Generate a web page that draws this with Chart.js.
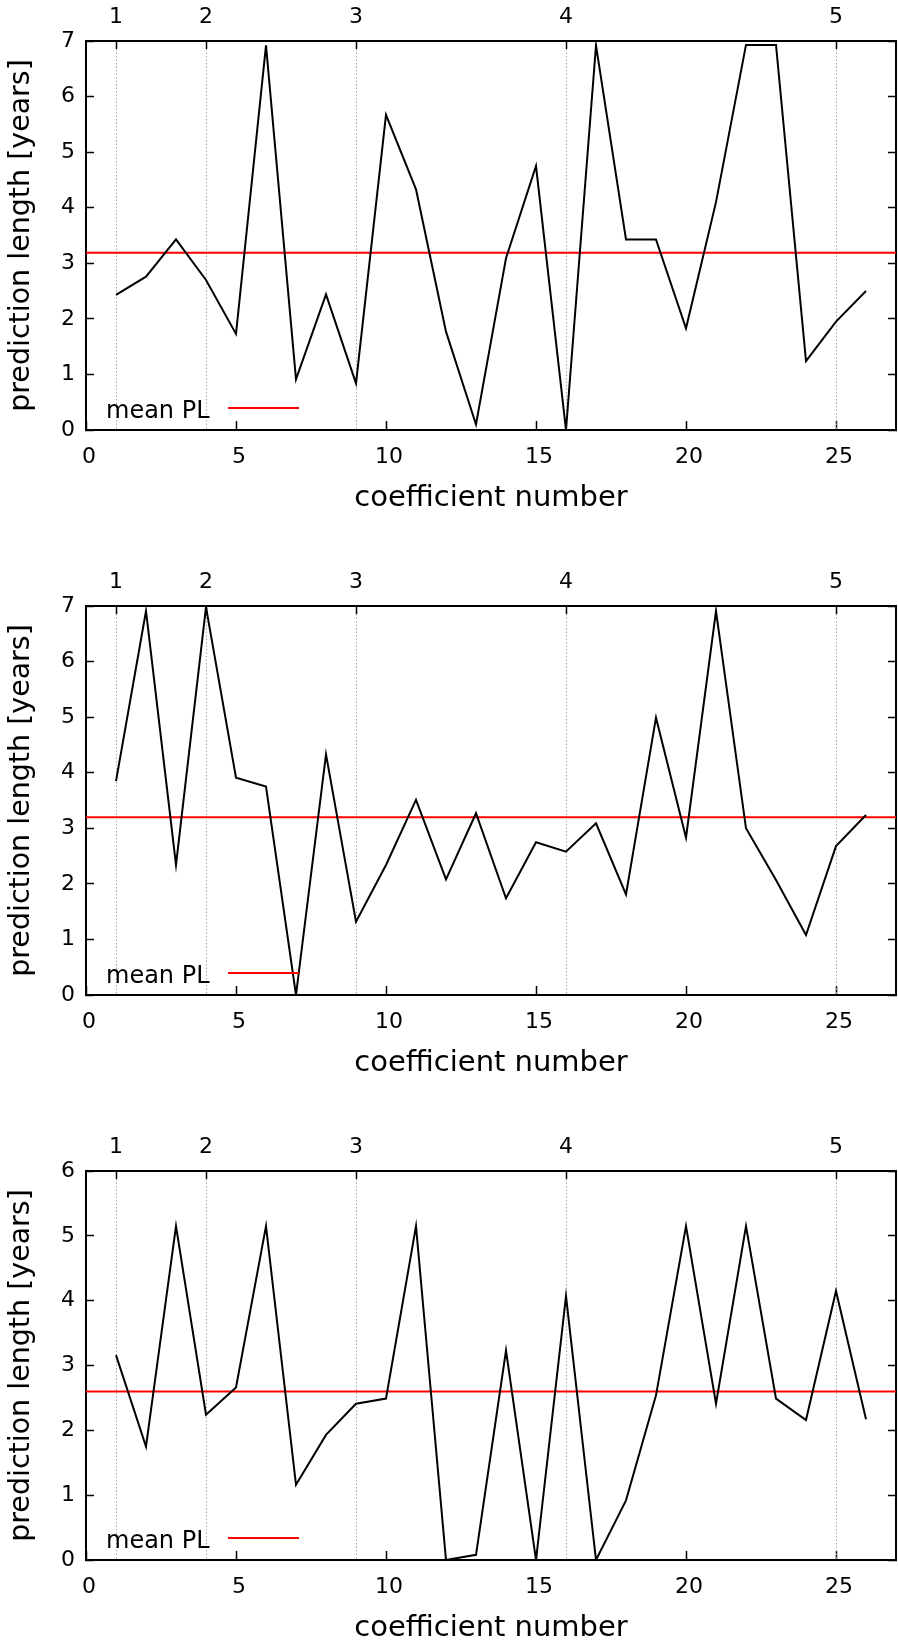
<!DOCTYPE html>
<html>
<head>
<meta charset="utf-8">
<title>prediction length</title>
<script src="https://cdn.jsdelivr.net/npm/chart.js@4.4.1/dist/chart.umd.min.js"></script>
<style>
	body { margin: 0; background: #fff; width: 898px; height: 1645px; overflow: hidden; position: relative; }
	canvas { position: absolute; left: 0; }
</style>
</head>
<body>
<canvas id="Plot1Canvas" width="898" height="565" style="top:-15px"></canvas>
<canvas id="Plot2Canvas" width="898" height="565" style="top:550px"></canvas>
<canvas id="Plot3Canvas" width="898" height="565" style="top:1115px"></canvas>
<script>
// coefficient numbers on the x axis
var coefficients = [1, 2, 3, 4, 5, 6, 7, 8, 9, 10, 11, 12, 13, 14, 15, 16, 17, 18, 19, 20, 21, 22, 23, 24, 25, 26];

// prediction length [years], one list per panel
var plTop = [2.43, 2.76, 3.43, 2.70, 1.73, 6.92, 0.91, 2.44, 0.84, 5.67, 4.33, 1.77, 0.10, 3.09, 4.75, 0.00, 6.92, 3.43, 3.43, 1.83, 4.10, 6.93, 6.93, 1.24, 1.95, 2.50];
var plMiddle = [3.85, 6.91, 2.34, 6.98, 3.91, 3.75, 0.00, 4.33, 1.32, 2.34, 3.51, 2.08, 3.27, 1.74, 2.75, 2.58, 3.09, 1.81, 4.99, 2.83, 6.91, 3.00, 2.07, 1.08, 2.68, 3.24];
var plBottom = [3.16, 1.75, 5.15, 2.24, 2.66, 5.15, 1.16, 1.93, 2.41, 2.49, 5.15, 0.00, 0.08, 3.23, 0.00, 4.07, 0.00, 0.92, 2.54, 5.15, 2.41, 5.15, 2.49, 2.16, 4.15, 2.17];

// mean PL of each panel, drawn across the whole x range
var meanPL = [3.19, 3.20, 2.60];
var xRange = [0, 27];
var yMax = [7, 7, 6];

// tick labels
var bottomTicks = [0, 5, 10, 15, 20, 25];
var topTickValues = [1, 4, 9, 16, 25];
var topTickLabels = ['1', '2', '3', '4', '5'];

Chart.defaults.font.family = "'DejaVu Sans', sans-serif";
Chart.defaults.color = '#000';

var Plots = {
	// legend inside the plot: text first, then the line sample
	insideLegend: {
		id: 'insideLegend',
		afterDraw: function(chart) {
			var ds = chart.data.datasets[1];
			var area = chart.chartArea;
			var ctx = chart.ctx;
			ctx.save();
			ctx.font = "24px 'DejaVu Sans', sans-serif";
			ctx.fillStyle = '#000';
			ctx.textAlign = 'left';
			ctx.textBaseline = 'alphabetic';
			ctx.fillText(ds.label, area.left + 20, area.bottom - 12);
			ctx.strokeStyle = ds.borderColor;
			ctx.lineWidth = ds.borderWidth;
			ctx.beginPath();
			ctx.moveTo(area.left + 142, area.bottom - 22);
			ctx.lineTo(area.left + 213, area.bottom - 22);
			ctx.stroke();
			ctx.restore();
		}
	},

	build: function(canvasId, values, mean, ymax) {
		var line = coefficients.map(function(c, i) { return {x: c, y: values[i]}; });
		var meanLine = xRange.map(function(x) { return {x: x, y: mean}; });
		var ctx = document.getElementById(canvasId).getContext('2d');
		return new Chart(ctx, {
			type: 'line',
			data: {
				datasets: [
					{ label: 'PL', data: line, borderColor: '#000', borderWidth: 2, pointRadius: 0, tension: 0, fill: false },
					{ label: 'mean PL', data: meanLine, borderColor: '#ff0000', borderWidth: 2, pointRadius: 0, fill: false }
				]
			},
			options: {
				responsive: false,
				animation: false,
				devicePixelRatio: 1,
				layout: { padding: 0 },
				plugins: { legend: { display: false }, tooltip: { enabled: false } },
				scales: {
					x: {
						type: 'linear', position: 'bottom', min: 0, max: 27,
						afterBuildTicks: function(s) { s.ticks = bottomTicks.map(function(v) { return {value: v}; }); },
						afterFit: function(s) { s.height = 120; },
						grid: { drawOnChartArea: false, tickLength: -9, tickColor: '#000', tickWidth: 1.5 },
						border: { display: true, color: '#000', width: 2 },
						ticks: { padding: 23, labelOffset: 3, autoSkip: false, maxRotation: 0, font: { size: 22 } },
						title: { display: true, text: 'coefficient number', font: { size: 29 }, padding: { top: 0, bottom: 34 } }
					},
					x2: {
						type: 'linear', position: 'top', min: 0, max: 27,
						afterBuildTicks: function(s) { s.ticks = topTickValues.map(function(v) { return {value: v}; }); },
						afterFit: function(s) { s.height = 56; },
						grid: { color: '#a8a8a8', lineWidth: 1, tickLength: -8, tickColor: '#000', tickWidth: 1.5 },
						border: { display: true, color: '#000', width: 2, dash: [1.5, 2] },
						ticks: {
							padding: 19, autoSkip: false, maxRotation: 0, font: { size: 22 },
							callback: function(v) { return topTickLabels[topTickValues.indexOf(v)]; }
						}
					},
					y: {
						type: 'linear', position: 'left', min: 0, max: ymax,
						afterFit: function(s) { s.width = 86; },
						grid: { drawOnChartArea: false, tickLength: -8, tickColor: '#000', tickWidth: 1.5 },
						border: { display: true, color: '#000', width: 2 },
						ticks: { stepSize: 1, padding: 19, font: { size: 22 } },
						title: { display: true, text: 'prediction length [years]', font: { size: 28.5 }, padding: { top: 4, bottom: 0 } }
					},
					y2: {
						type: 'linear', position: 'right', min: 0, max: ymax,
						afterFit: function(s) { s.width = 2; },
						grid: { drawOnChartArea: false, tickLength: -8, tickColor: '#000', tickWidth: 1.5 },
						border: { display: true, color: '#000', width: 2 },
						ticks: { stepSize: 1, display: false }
					}
				}
			},
			plugins: [Plots.insideLegend]
		});
	},

	init: function() {
		this.build('Plot1Canvas', plTop, meanPL[0], yMax[0]);
		this.build('Plot2Canvas', plMiddle, meanPL[1], yMax[1]);
		this.build('Plot3Canvas', plBottom, meanPL[2], yMax[2]);
	}
};

Plots.init();
</script>
</body>
</html>
